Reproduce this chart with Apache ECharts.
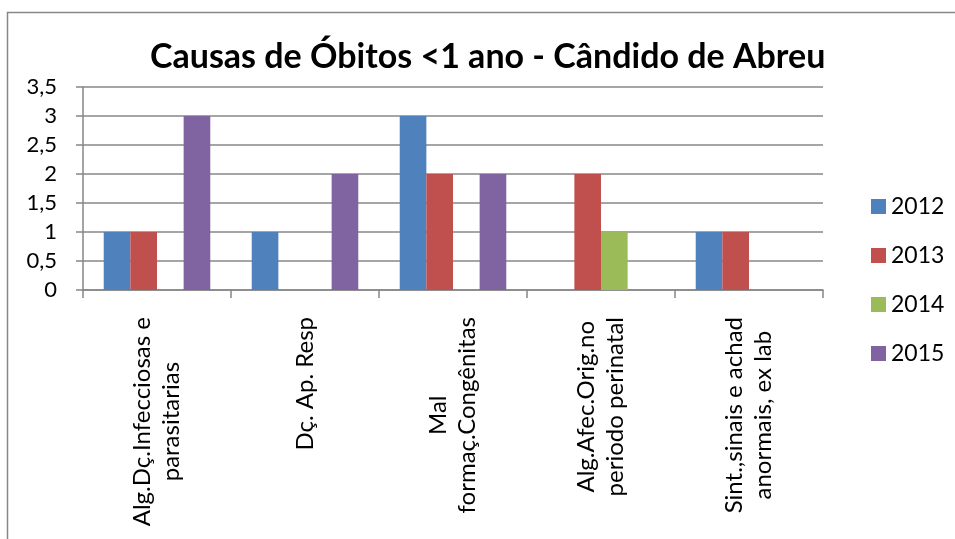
<!DOCTYPE html>
<html>
<head>
<meta charset="utf-8">
<script src="https://cdn.jsdelivr.net/npm/echarts@6/dist/echarts.min.js"></script>
<style>
  html, body { margin: 0; padding: 0; background: #fff; }
  #chart { width: 955px; height: 539px; }
</style>
</head>
<body>
<div id="chart"></div>
<script>
// categorias (quebras de linha como no original)
const categorias = [
  'Alg.Dç.Infecciosas e\nparasitarias',
  'Dç. Ap. Resp',
  'Mal\nformaç.Congênitas',
  'Alg.Afec.Orig.no\nperiodo perinatal',
  'Sint.,sinais e achad\nanormais, ex lab'
];
const anos = ['2012', '2013', '2014', '2015'];
const v2012 = [1, 1, 3, 0, 1];
const v2013 = [1, 0, 2, 2, 1];
const v2014 = [0, 0, 0, 1, 0];
const v2015 = [3, 2, 2, 0, 0];
const cores = ['#4F81BD', '#C0504D', '#9BBB59', '#8064A2'];

const fonte = 'Lato, "Open Sans", sans-serif';
const cinza = '#878787';

const chart = echarts.init(document.getElementById('chart'));

const option = {
  animation: false,
  color: cores,
  title: {
    text: 'Causas de Óbitos <1 ano - Cândido de Abreu',
    left: 150,
    top: 40,
    padding: 0,
    textStyle: { fontFamily: fonte, fontSize: 34, fontWeight: 'bold', color: '#000' }
  },
  //borda externa do gráfico
  graphic: [{
    type: 'rect',
    shape: { x: 7.5, y: 12.5, width: 1000, height: 600 },
    style: { fill: 'none', stroke: cinza, lineWidth: 1.5 },
    silent: true
  }],
  legend: {
    orient: 'vertical',
    left: 866,
    top: 190,
    itemWidth: 15,
    itemHeight: 15,
    itemGap: 26,
    icon: 'rect',
    textStyle: { fontFamily: fonte, fontSize: 23, color: '#000', lineHeight: 22 },
    data: anos
  },
  grid: { left: 83, right: 132, top: 87, bottom: 249, containLabel: false },
  xAxis: {
    type: 'category',
    data: categorias,
    axisLine: { lineStyle: { color: cinza, width: 1.5 } },
    axisTick: { show: true, length: 8, lineStyle: { color: cinza, width: 1.5 } },
    axisLabel: {
      rotate: 90,
      margin: 27,
      interval: 0,
      color: '#000',
      formatter: v => v.split('\n').map(l => '{c|' + l + '}').join('\n'),
      rich: {
        c: { align: 'center', fontFamily: fonte, fontSize: 24, lineHeight: 29, color: '#000' }
      }
    }
  },
  yAxis: {
    type: 'value',
    min: 0,
    max: 3.5,
    interval: 0.5,
    axisLine: { show: true, lineStyle: { color: cinza, width: 1.5 } },
    axisTick: { show: true, length: 7, lineStyle: { color: cinza, width: 1.5 } },
    splitLine: { lineStyle: { color: cinza, width: 1.5 } },
    axisLabel: {
      margin: 26,
      color: '#000',
      fontFamily: fonte,
      fontSize: 22,
      formatter: v => String(v).replace('.', ',')
    }
  },
  series: [
    { name: '2012', type: 'bar', data: v2012, barGap: 0, barCategoryGap: '28%' },
    { name: '2013', type: 'bar', data: v2013, barGap: 0, barCategoryGap: '28%' },
    { name: '2014', type: 'bar', data: v2014, barGap: 0, barCategoryGap: '28%' },
    { name: '2015', type: 'bar', data: v2015, barGap: 0, barCategoryGap: '28%' }
  ]
};

chart.setOption(option);
</script>
</body>
</html>
